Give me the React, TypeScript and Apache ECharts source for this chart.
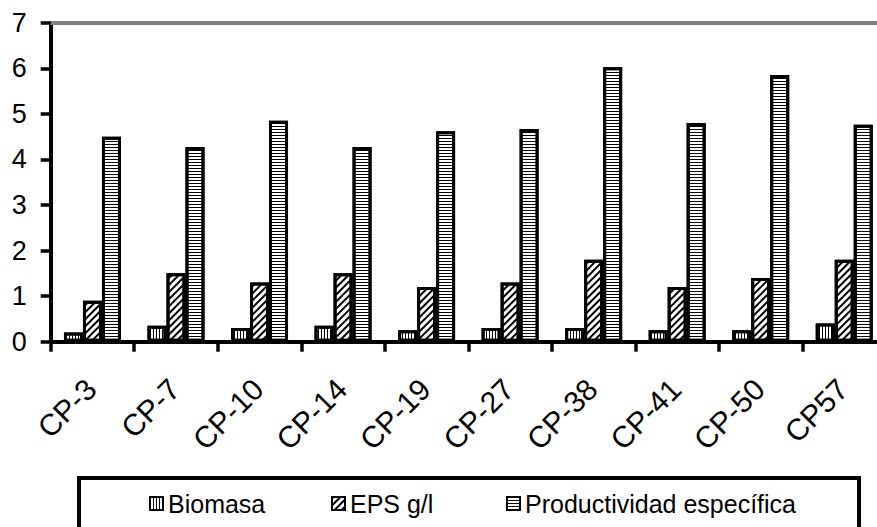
import React, { useEffect, useRef } from "react";
import * as echarts from "echarts";

const categories = ["CP-3", "CP-7", "CP-10", "CP-14", "CP-19", "CP-27", "CP-38", "CP-41", "CP-50", "CP57"];
const biomasa = [0.2, 0.35, 0.3, 0.35, 0.25, 0.3, 0.3, 0.25, 0.25, 0.4];
const eps = [0.9, 1.5, 1.3, 1.5, 1.2, 1.3, 1.8, 1.2, 1.4, 1.8];
const productividad = [4.5, 4.27, 4.85, 4.27, 4.62, 4.67, 6.02, 4.8, 5.85, 4.76];
const seriesNames = ["Biomasa", "EPS g/l", "Productividad específica"];
const yTicks = { min: 0, max: 7, interval: 1 };

const FONT = "'Liberation Sans', Arial, sans-serif";

export default function App() {
  const ref = useRef<HTMLDivElement>(null);
  useEffect(() => {
    document.body.style.margin = "0";
    const chart = echarts.init(ref.current!, null, { renderer: "svg" });
    const decals: any[] = [
      { symbol: "rect", symbolSize: 1, color: "#000", backgroundColor: "#fff", dashArrayX: [1, 2], dashArrayY: [4, 0], rotation: 0 },
      { symbol: "rect", symbolSize: 1, color: "#000", backgroundColor: "#fff", dashArrayX: [1.2, 2.2], dashArrayY: [4, 0], rotation: Math.PI / 4 },
      { symbol: "rect", symbolSize: 1, color: "#000", backgroundColor: "#fff", dashArrayX: [4, 0], dashArrayY: [1, 2], rotation: 0 },
    ];
    const dataSets = [biomasa, eps, productividad];
    const legendLefts = [149, 331, 506];
    chart.setOption({
      animation: false,
      aria: { enabled: true, decal: { show: false } },
      textStyle: { fontFamily: FONT },
      grid: { left: 50.7, top: 22.7, height: 319, right: -9, outerBoundsMode: "none", containLabel: false },
      legend: seriesNames.map((n, i) => ({
        data: [n],
        left: legendLefts[i],
        top: 491,
        padding: 0,
        itemWidth: 13,
        itemHeight: 13,
        icon: "rect",
        textStyle: { fontSize: 25, color: "#000", fontFamily: FONT },
      })),
      xAxis: [
        {
          type: "category",
          data: categories,
          boundaryGap: true,
          axisLine: { show: true, lineStyle: { color: "#000", width: 4 } },
          axisTick: { show: true, length: 10, alignWithLabel: false, lineStyle: { color: "#000", width: 3.5 } },
          axisLabel: { rotate: 45, margin: 41, fontSize: 30, color: "#000", fontFamily: FONT, interval: 0, padding: [0, 2, 0, 0] },
          splitLine: { show: false },
        },
        {
          type: "category",
          data: categories,
          position: "top",
          axisLine: { show: true, lineStyle: { color: "#808080", width: 4 } },
          axisTick: { show: false },
          axisLabel: { show: false },
          splitLine: { show: false },
        },
      ],
      yAxis: {
        type: "value",
        min: yTicks.min,
        max: yTicks.max,
        interval: yTicks.interval,
        axisLine: { show: true, lineStyle: { color: "#000", width: 4 } },
        axisTick: { show: true, length: 10, lineStyle: { color: "#000", width: 3.5 } },
        axisLabel: { margin: 24, fontSize: 27, color: "#000", fontFamily: FONT, padding: [0, 0, 5, 0] },
        splitLine: { show: false },
      },
      graphic: [
        {
          type: "rect",
          shape: { x: 79, y: 478, width: 780, height: 100 },
          style: { fill: "none", stroke: "#000", lineWidth: 4 },
          silent: true,
        },
      ],
      series: seriesNames.map((n, i) => ({
        name: n,
        type: "bar",
        xAxisIndex: 0,
        data: dataSets[i],
        barWidth: 19,
        barGap: "0%",
        itemStyle: { color: "#fff", borderColor: "#000", borderWidth: 3, decal: decals[i] },
      })),
    });
    return () => chart.dispose();
  }, []);
  return <div ref={ref} style={{ width: 877, height: 527 }} />;
}
